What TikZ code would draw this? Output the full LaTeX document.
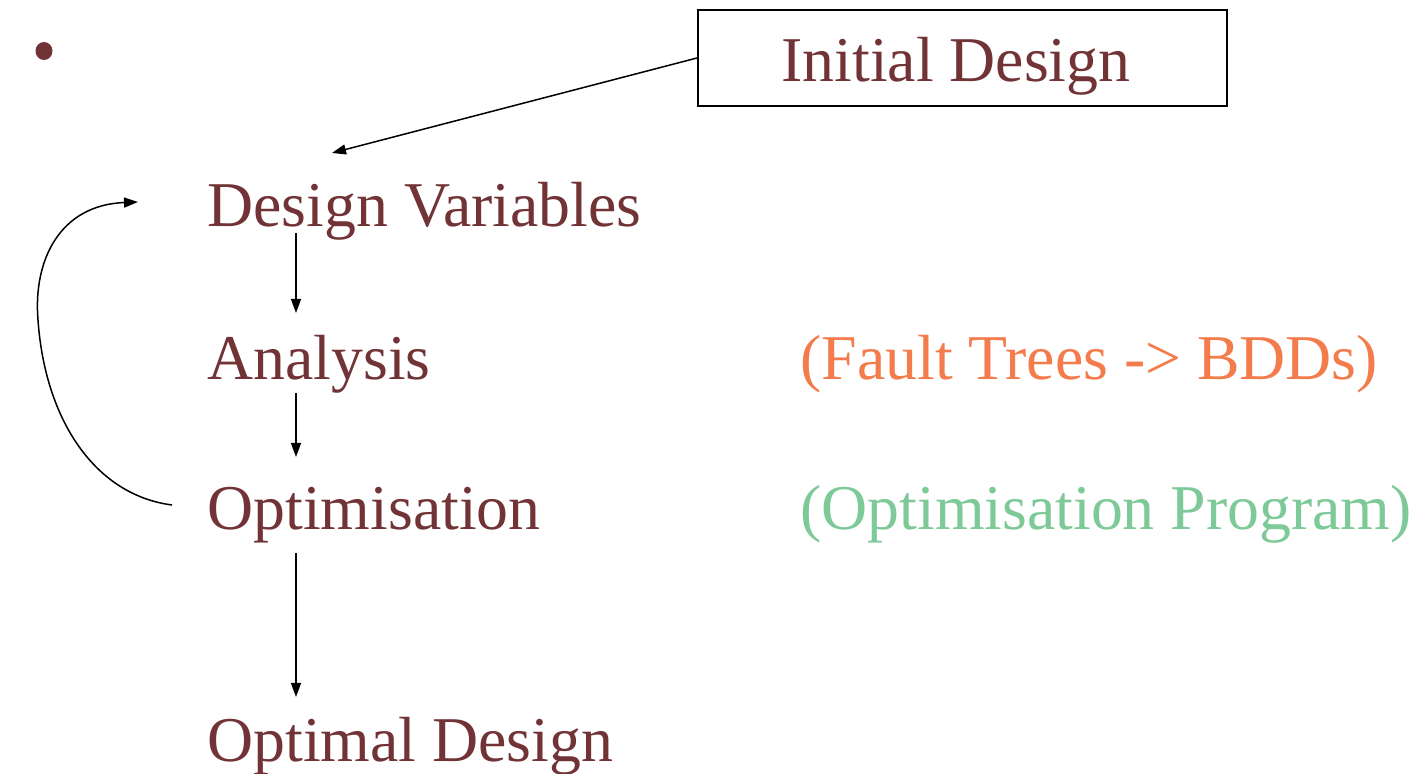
\documentclass[tikz,border=0pt]{standalone}
\usepackage{fontspec}
\setmainfont{Liberation Serif}
\usetikzlibrary{arrows.meta}
\definecolor{maroon}{RGB}{114,51,54}
\definecolor{ftorange}{RGB}{244,124,76}
\definecolor{opgreen}{RGB}{126,201,152}
\tikzset{
  lbl/.style={anchor=base west,inner sep=0pt,font=\fontsize{31.9}{38}\selectfont,text=maroon},
  arr/.style={line width=0.75pt,-{Triangle[length=7pt,width=5pt]}},
  boxstyle/.style={draw,line width=1pt,minimum width=264.5pt,minimum height=48pt,inner sep=0pt}
}
\begin{document}
\begin{tikzpicture}[x=0.5pt,y=-0.5pt]
\useasboundingbox (0,0) rectangle (1414,774);
\fill[maroon] (44,51) ellipse [x radius=8.5,y radius=9];
\node[boxstyle] (box) at (962.5,58) {};
\node[lbl] (init) at (781,82) {Initial Design};
\node[lbl] (dv) at (207,227) {Design Variables};
\node[lbl] (an) at (207,380) {Analysis};
\node[lbl] (opt) at (207,530) {Optimisation};
\node[lbl] (od) at (207,762) {Optimal Design};
\node[lbl,text=ftorange] (ft) at (800,380) {(Fault Trees -> BDDs)};
\node[lbl,text=opgreen] (op) at (800,530) {(Optimisation Program)};
\coordinate (dvin) at (332,153);
\coordinate (dvout) at (296,233);
\coordinate (anin) at (296,313);
\coordinate (anout) at (296,393);
\coordinate (optin) at (296,457);
\coordinate (optout) at (296,553);
\coordinate (odin) at (296,697);
\coordinate (loopstart) at (172,505);
\coordinate (loopmid) at (38,320);
\coordinate (loopend) at (138,202);
\draw[arr] (box.west) -- (dvin);
\draw[arr] (dvout) -- (anin);
\draw[arr] (anout) -- (optin);
\draw[arr] (optout) -- (odin);
\draw[arr] (loopstart) .. controls (95,495) and (45,420) .. (loopmid)
  .. controls (33,260) and (60,205) .. (loopend);
\end{tikzpicture}
\end{document}
